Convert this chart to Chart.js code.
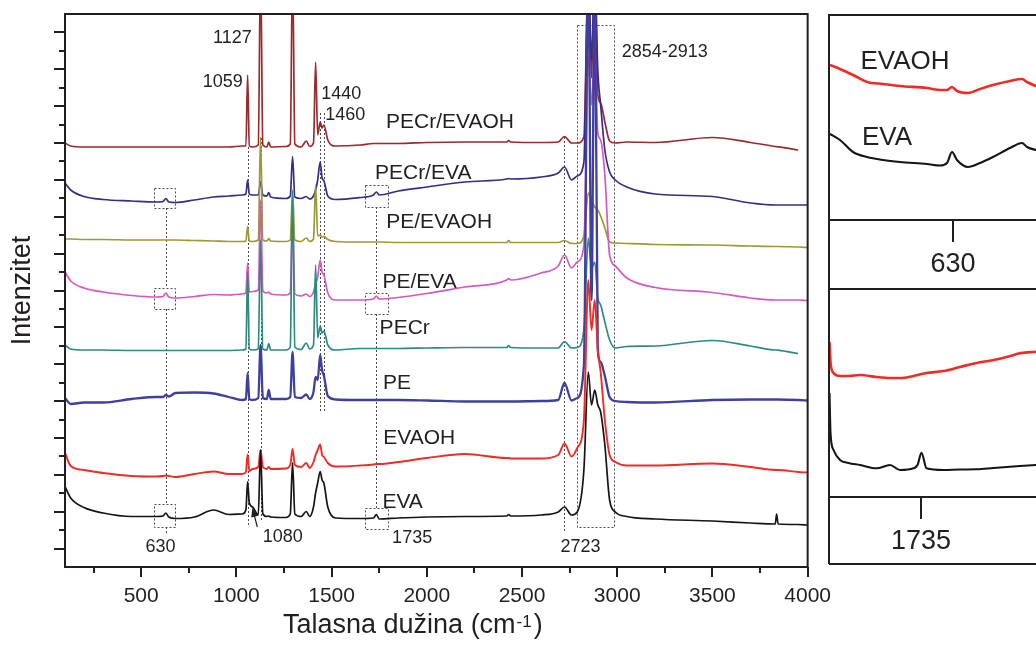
<!DOCTYPE html>
<html>
<head>
<meta charset="utf-8">
<script src="https://cdn.jsdelivr.net/npm/chart.js@4.4.1/dist/chart.umd.min.js"></script>
<style>
  html, body { margin: 0; padding: 0; background: #fff; overflow: hidden; width: 1036px; height: 646px; }
  canvas { position: absolute; }
  #main { left: 0; top: 0; }
  #inset1 { left: 820px; top: 0; }
  #inset2 { left: 820px; top: 280px; }
</style>
</head>
<body>
<canvas id="main" width="848" height="646"></canvas>
<canvas id="inset1" width="260" height="290"></canvas>
<canvas id="inset2" width="260" height="300"></canvas>
<script>
// ---------- Raman spectra (intensity a.u., each trace shifted vertically) ----------
const wavenumbers = [
  100, 130, 200, 300, 450, 580, 615, 630, 645, 680,
  780, 880, 960, 1030, 1050, 1059, 1068, 1085, 1115, 1127,
  1139, 1160, 1170, 1180, 1260, 1283, 1295, 1307, 1340, 1367,
  1385, 1405, 1416, 1427, 1440, 1450, 1460, 1480, 1520, 1650,
  1720, 1735, 1750, 1850, 2000, 2200, 2420, 2430, 2440, 2600,
  2690, 2723, 2760, 2790, 2825, 2848, 2865, 2882, 2898, 2913,
  2935, 2960, 2990, 3050, 3200, 3500, 3700, 3830, 3837, 3845,
  3950, 4000
];

const pecrEvaoh = [
  424, 421, 420, 420, 420, 420, 420, 420, 420, 420,
  420, 420, 420, 421, 421, 492, 421, 420, 422, 600,
  422, 420, 425, 420, 420.5, 423, 600, 423, 420, 426,
  420.5, 424, 505, 432, 445, 439, 442, 427, 421, 422,
  423.5, 423.5, 423.5, 423.5, 424.5, 425, 425, 426.5, 425, 424.5,
  425, 430.5, 424, 424, 430, 600, 489, 600, 472, 464,
  445, 426, 424, 425, 424.5, 429.5, 424.5, 420.5, 420.3, 420.2,
  417, null
];

const pecrEva = [
  384, 377, 370.5, 367.5, 366, 365, 365.5, 368.5, 365, 364.5,
  367, 370, 371, 372, 373, 387, 373, 372, 372, 385.5,
  372, 371, 374.5, 370, 368.5, 371, 410.5, 370, 368.5, 370.5,
  368, 371, 377, 387, 405, 389, 386, 371, 367.5, 369.5,
  372, 375, 372, 376, 380, 385, 388, 388.5, 388, 390,
  394, 400, 387, 391, 405, 600, 507, 600, 497, 462,
  417, 395, 387, 380, 373, 370.5, 364, 362, 362, 362,
  362, 362
];

const peEvaoh = [
  328, 328, 327.5, 327.5, 327, 327, 327, 327, 327, 327,
  326.5, 326, 325.5, 325.5, 326, 340.5, 326, 325.5, 327, 430,
  327, 326, 328.5, 326, 325.5, 327, 377, 327, 325.5, 329,
  325.5, 328, 382, 331, 332, 330, 330.5, 327.5, 325.5, 325,
  325, 325, 325, 324.5, 324.5, 324.5, 324.5, 326.5, 324.5, 324.5,
  324.5, 326.5, 323.5, 323.5, 331, 374, 367, 360, 357, 351,
  339, 325, 324, 323.5, 322.5, 322, 321, 320.5, 320.5, 320.5,
  320, 319.5
];

const peEva = [
  295, 286, 279, 275, 271.5, 270, 270.5, 274, 270, 269,
  270.5, 272.5, 272, 273, 274, 304, 275, 275.5, 277, 367,
  276, 274, 275, 273, 272, 274, 352, 273, 271, 273,
  270.5, 275, 283, 290, 307, 295, 292, 274, 267, 267,
  268, 271, 268, 269.5, 273.5, 280, 287, 288.5, 287, 294,
  301, 312, 299, 305, 322, 512, 462, 522, 434, 427,
  392, 312, 301, 289, 279.5, 274.5, 269, 267, 267, 267,
  267, 266.5
];

const pecr = [
  222, 218, 217, 217, 216.5, 216.5, 216.5, 216.5, 216.5, 216.5,
  216.5, 216.5, 216.5, 217, 218, 295, 218, 217, 218, 327,
  218, 217, 223.5, 217, 217, 220, 377, 220, 217.5, 224,
  218, 222, 302, 229, 241, 234, 236, 222, 217, 218.5,
  218.5, 218.5, 218.5, 218.5, 219, 219.5, 219.5, 221.5, 219.5, 219,
  219, 225.5, 219, 219.5, 237, 329, 299, 305, 269, 262,
  245, 227, 219, 220.5, 221, 226.5, 221, 217, 217, 216.8,
  213.5, null
];

const pe = [
  169, 163, 164.5, 164.5, 168, 170, 170, 172, 170.5, 174,
  174.5, 173.5, 170, 167, 168, 194, 168, 167, 169, 222,
  169, 168, 177, 168, 168, 170, 215, 170, 169, 172.5,
  168, 175, 190, 187, 212, 197, 191, 171, 167.5, 167,
  167, 167, 167, 167, 166.5, 165.5, 165.5, 165.5, 165.5, 166,
  167, 184, 166.5, 169, 202, 600, 267, 600, 217, 205,
  191, 170, 166, 165, 164.5, 167, 167.5, 167.5, 167.5, 167.5,
  167, 166.5
];

const evaoh = [
  114, 101, 97, 94, 91, 90.5, 91, 91.5, 91, 90,
  93, 95.5, 93, 93, 95, 112.5, 96, 98, 100, 117,
  100, 98, 100, 98, 98.5, 102, 118, 102, 100, 104,
  99, 105, 112, 117, 122.5, 112, 110, 104, 100.5, 101.5,
  102.5, 103, 103, 105, 109, 113, 109, 109, 108.5, 108.5,
  112, 123.5, 110.5, 119, 147, 287, 237, 267, 217, 195,
  147, 112, 105, 101.5, 101.5, 103.5, 100, 97, 97, 97,
  95, 94.5
];

const eva = [
  80.5, 69, 59.5, 54, 50.5, 50.5, 51, 54, 50, 48.5,
  50, 57, 52.5, 53, 57, 85.5, 64, 60, 52, 117,
  53, 50.5, 51, 50, 49.5, 53, 104.5, 53, 50.5, 55.5,
  50.5, 60, 74, 84, 95.5, 87, 83.5, 60, 49, 48.5,
  49, 52.5, 48, 49, 50, 50.5, 51, 52.5, 51, 52,
  55, 60, 52, 55, 97, 195, 162, 177, 162, 155,
  122, 67, 55, 50.5, 48, 46, 44, 43, 53, 43,
  42.5, 42
];

const xTickValues = [500, 1000, 1500, 2000, 2500, 3000, 3500, 4000];

// ---------- enlarged regions ----------
const inset1Wavenumbers = [507, 517, 530, 544, 560, 577, 604, 617, 624, 629, 634, 645, 657, 670, 687, 699, 704, 713, 735, 757];
const inset1Evaoh = [155, 151, 145, 138, 136, 134, 132, 130, 130, 133, 129, 127, 131, 135, 139, 141, 138, 134, 130, 128];
const inset1Eva   = [86, 80, 68, 63, 60, 58, 56, 54.5, 57, 68, 60, 53, 57, 63, 72, 77, 73, 70, 66, 64];

const inset2Wavenumbers = [1552, 1554, 1560, 1573, 1590, 1613, 1646, 1673, 1693, 1720, 1728, 1736, 1746, 1780, 1813, 1846, 1880, 1913, 1933, 1965, 2000, 2053];
const inset2Evaoh = [155, 135, 124, 121, 121, 122, 120, 119, 119, 121, 122, 123, 124, 126, 130, 134, 137, 141, 143.7, 145.3, 147, 150];
const inset2Eva   = [104, 64, 47, 37, 34, 32, 28.7, 32, 27, 28.7, 32, 44.3, 28.7, 27, 27.5, 27.7, 29, 30.3, 31, 32, 33, 34];

// ---------- styling ----------
const FONT = "'Liberation Sans', Arial, Helvetica, sans-serif";
const INK = '#231f20';
Chart.defaults.font.family = FONT;
Chart.defaults.color = INK;

// dotted guide segments: [wavenumber, from, to]
const guides = [
  [630, 359, 279], [630, 258, 63], [630, 40, 32],
  [1059, 420, 40], [1127, 429, 47],
  [1440, 454, 154], [1460, 454, 154],
  [1735, 360, 274], [1735, 253, 59],
  [2723, 430, 34]
];
// dotted boxes: [x1, x2, y1, y2]
const guideBoxes = [
  [565, 680, 379, 359], [565, 680, 279, 258], [565, 680, 63, 40],
  [1677, 1797, 382, 360], [1677, 1797, 274, 253], [1677, 1797, 59, 38],
  [2788, 2982, 542, 40]
];
// text annotations: [text, wavenumber, intensity, font size]
const annotations = [
  ['1127', 979, 529, 18], ['1059', 929, 485, 18],
  ['1440', 1551, 473, 18], ['1460', 1572, 452, 18],
  ['2854-2913', 3250, 515, 18],
  ['PECr/EVAOH', 2122, 445, 21], ['PECr/EVA', 1981, 394, 21],
  ['PE/EVAOH', 2065, 345, 21], ['PE/EVA', 1962, 285, 21],
  ['PECr', 1884, 239, 21], ['PE', 1844, 184, 21],
  ['EVAOH', 1960, 129, 21], ['EVA', 1873, 65, 21],
  ['630', 601, 20, 18], ['1080', 1244, 30, 18],
  ['1735', 1923, 29, 18], ['2723', 2807, 20, 18]
];

function trace(label, values, color, width, xs) {
  return {
    label,
    data: xs.map((w, i) => ({ x: w, y: values[i] })),
    borderColor: color,
    borderWidth: width,
    pointRadius: 0,
    fill: false,
    cubicInterpolationMode: 'monotone'
  };
}

const mainDecor = {
  id: 'mainDecor',
  beforeDatasetsDraw(chart) {
    const { ctx, scales: { x, y } } = chart;
    ctx.save();
    ctx.strokeStyle = '#4a4a4a';
    ctx.lineWidth = 1;
    ctx.setLineDash([2, 2]);
    ctx.beginPath();
    guides.forEach(([w, a, b]) => {
      const px = Math.round(x.getPixelForValue(w)) + 0.5;
      ctx.moveTo(px, y.getPixelForValue(a));
      ctx.lineTo(px, y.getPixelForValue(b));
    });
    guideBoxes.forEach(([x1, x2, y1, y2]) => {
      const l = Math.round(x.getPixelForValue(x1)) + 0.5, r = Math.round(x.getPixelForValue(x2)) + 0.5;
      const t = Math.round(y.getPixelForValue(y1)) + 0.5, b = Math.round(y.getPixelForValue(y2)) + 0.5;
      ctx.rect(l, t, r - l, b - t);
    });
    ctx.stroke();
    ctx.restore();
  },
  afterDraw(chart) {
    const { ctx, chartArea: a, scales: { x, y } } = chart;
    ctx.save();
    // frame
    ctx.strokeStyle = INK;
    ctx.lineWidth = 2;
    ctx.strokeRect(a.left, a.top, a.right - a.left, a.bottom - a.top);
    // y tick marks (unlabelled)
    ctx.beginPath();
    const n = 30, step = (a.bottom - a.top) / n;
    for (let k = 1; k < n; k++) {
      const py = Math.round(a.bottom - k * step);
      ctx.moveTo(a.left, py);
      ctx.lineTo(a.left - (k % 2 ? 11 : 6), py);
    }
    // x tick marks
    for (let v = 250; v <= 4000; v += 250) {
      const px = Math.round(x.getPixelForValue(v));
      ctx.moveTo(px, a.bottom);
      ctx.lineTo(px, a.bottom + (v % 500 === 0 ? 10 : 6));
    }
    ctx.stroke();

    // annotations
    ctx.fillStyle = INK;
    ctx.textAlign = 'center';
    ctx.textBaseline = 'middle';
    annotations.forEach(([t, w, v, s]) => {
      ctx.font = s + 'px ' + FONT;
      ctx.fillText(t, x.getPixelForValue(w), y.getPixelForValue(v));
    });

    // arrow to the 1080 shoulder
    const tx = x.getPixelForValue(1110), ty = y.getPixelForValue(40);
    const hx = x.getPixelForValue(1084), hy = y.getPixelForValue(59);
    const ang = Math.atan2(hy - ty, hx - tx);
    ctx.lineWidth = 1.2;
    ctx.beginPath();
    ctx.moveTo(tx, ty);
    ctx.lineTo(hx - 5 * Math.cos(ang), hy - 5 * Math.sin(ang));
    ctx.stroke();
    ctx.beginPath();
    ctx.moveTo(hx, hy);
    ctx.lineTo(hx - 9 * Math.cos(ang) + 3.5 * Math.sin(ang), hy - 9 * Math.sin(ang) - 3.5 * Math.cos(ang));
    ctx.lineTo(hx - 9 * Math.cos(ang) - 3.5 * Math.sin(ang), hy - 9 * Math.sin(ang) + 3.5 * Math.cos(ang));
    ctx.closePath();
    ctx.fill();

    // x axis title with superscript
    const t0 = a.left + 218, tb = 633;
    ctx.textAlign = 'left';
    ctx.textBaseline = 'alphabetic';
    ctx.font = '27px ' + FONT;
    const p1 = 'Talasna dužina (cm';
    ctx.fillText(p1, t0, tb);
    const w1 = ctx.measureText(p1).width;
    ctx.font = '17px ' + FONT;
    ctx.fillText('-1', t0 + w1 + 1, tb - 6);
    const w2 = ctx.measureText('-1').width;
    ctx.font = '27px ' + FONT;
    ctx.fillText(')', t0 + w1 + w2 + 3, tb);
    ctx.restore();
  }
};

new Chart(document.getElementById('main'), {
  type: 'line',
  data: {
    datasets: [
      trace('EVA', eva, '#151515', 1.7, wavenumbers),
      trace('EVAOH', evaoh, '#ee2b24', 1.9, wavenumbers),
      trace('PE', pe, '#3f3f9e', 2.3, wavenumbers),
      trace('PECr', pecr, '#2e8a80', 1.7, wavenumbers),
      trace('PE/EVA', peEva, '#d458bf', 1.7, wavenumbers),
      trace('PE/EVAOH', peEvaoh, '#9a9a36', 1.7, wavenumbers),
      trace('PECr/EVA', pecrEva, '#3a2b85', 1.7, wavenumbers),
      trace('PECr/EVAOH', pecrEvaoh, '#992a2e', 1.7, wavenumbers)
    ]
  },
  options: {
    responsive: false,
    devicePixelRatio: 1,
    animation: false,
    layout: { padding: { left: 0, top: 14, right: 40, bottom: 0 } },
    plugins: { legend: { display: false }, tooltip: { enabled: false } },
    scales: {
      x: {
        type: 'linear', min: 100, max: 4000,
        afterBuildTicks: s => { s.ticks = xTickValues.map(v => ({ value: v })); },
        grid: { display: false, drawTicks: false },
        border: { display: false },
        ticks: { font: { size: 21 }, color: INK, padding: 17, maxRotation: 0, autoSkip: false, callback: v => String(v) },
        afterFit: s => { s.height = 79; }
      },
      y: {
        min: 0, max: 553,
        grid: { display: false, drawTicks: false },
        border: { display: false },
        ticks: { display: false },
        title: { display: true, text: 'Intenzitet', font: { size: 27 }, color: INK, padding: { top: 6, bottom: 0 } },
        afterFit: s => { s.width = 65; }
      }
    }
  },
  plugins: [mainDecor]
});

// ---------- enlarged-region panels ----------
function insetDecor(tickValue, boxBottom, labels) {
  return {
    id: 'insetDecor',
    afterDraw(chart) {
      const { ctx, chartArea: a, scales: { x, y } } = chart;
      ctx.save();
      ctx.strokeStyle = INK;
      ctx.lineWidth = 2;
      ctx.beginPath();
      ctx.moveTo(a.left, a.top); ctx.lineTo(chart.width + 5, a.top);
      ctx.moveTo(a.left, a.bottom); ctx.lineTo(chart.width + 5, a.bottom);
      ctx.moveTo(a.left, a.top - 1); ctx.lineTo(a.left, boxBottom);
      if (boxBottom < chart.height) { ctx.moveTo(a.left, boxBottom); ctx.lineTo(chart.width + 5, boxBottom); }
      const tx = Math.round(x.getPixelForValue(tickValue));
      ctx.moveTo(tx, a.bottom); ctx.lineTo(tx, a.bottom + 22);
      ctx.stroke();
      ctx.fillStyle = INK;
      ctx.textAlign = 'center';
      ctx.textBaseline = 'middle';
      ctx.font = '26px ' + FONT;
      labels.forEach(([t, w, v]) => ctx.fillText(t, x.getPixelForValue(w), y.getPixelForValue(v)));
      ctx.restore();
    }
  };
}

function insetChart(id, xs, red, black, xmin, xmax, ymax, padTop, axisHeight, tickValue, boxBottom, labels) {
  return new Chart(document.getElementById(id), {
    type: 'line',
    data: {
      datasets: [
        trace('EVA', black, '#151515', 2.1, xs),
        trace('EVAOH', red, '#ee2b24', 2.6, xs)
      ]
    },
    options: {
      responsive: false,
      devicePixelRatio: 1,
      animation: false,
      layout: { padding: { left: 9, top: padTop, right: 0, bottom: 0 } },
      plugins: { legend: { display: false }, tooltip: { enabled: false } },
      scales: {
        x: {
          type: 'linear', min: xmin, max: xmax,
          afterBuildTicks: s => { s.ticks = [{ value: tickValue }]; },
          grid: { display: false, drawTicks: false },
          border: { display: false },
          ticks: { font: { size: 27 }, color: INK, padding: 28, maxRotation: 0, autoSkip: false, callback: v => String(v) },
          afterFit: s => { s.height = axisHeight; }
        },
        y: { display: false, min: 0, max: ymax }
      }
    },
    plugins: [insetDecor(tickValue, boxBottom, labels)]
  });
}

insetChart('inset1', inset1Wavenumbers, inset1Evaoh, inset1Eva, 506, 757, 205, 15, 70, 630, 290,
  [['EVAOH', 582, 158], ['EVA', 564, 82]]);
insetChart('inset2', inset2Wavenumbers, inset2Evaoh, inset2Eva, 1551, 2053, 208, 9, 83, 1735, 284, []);
</script>
</body>
</html>
